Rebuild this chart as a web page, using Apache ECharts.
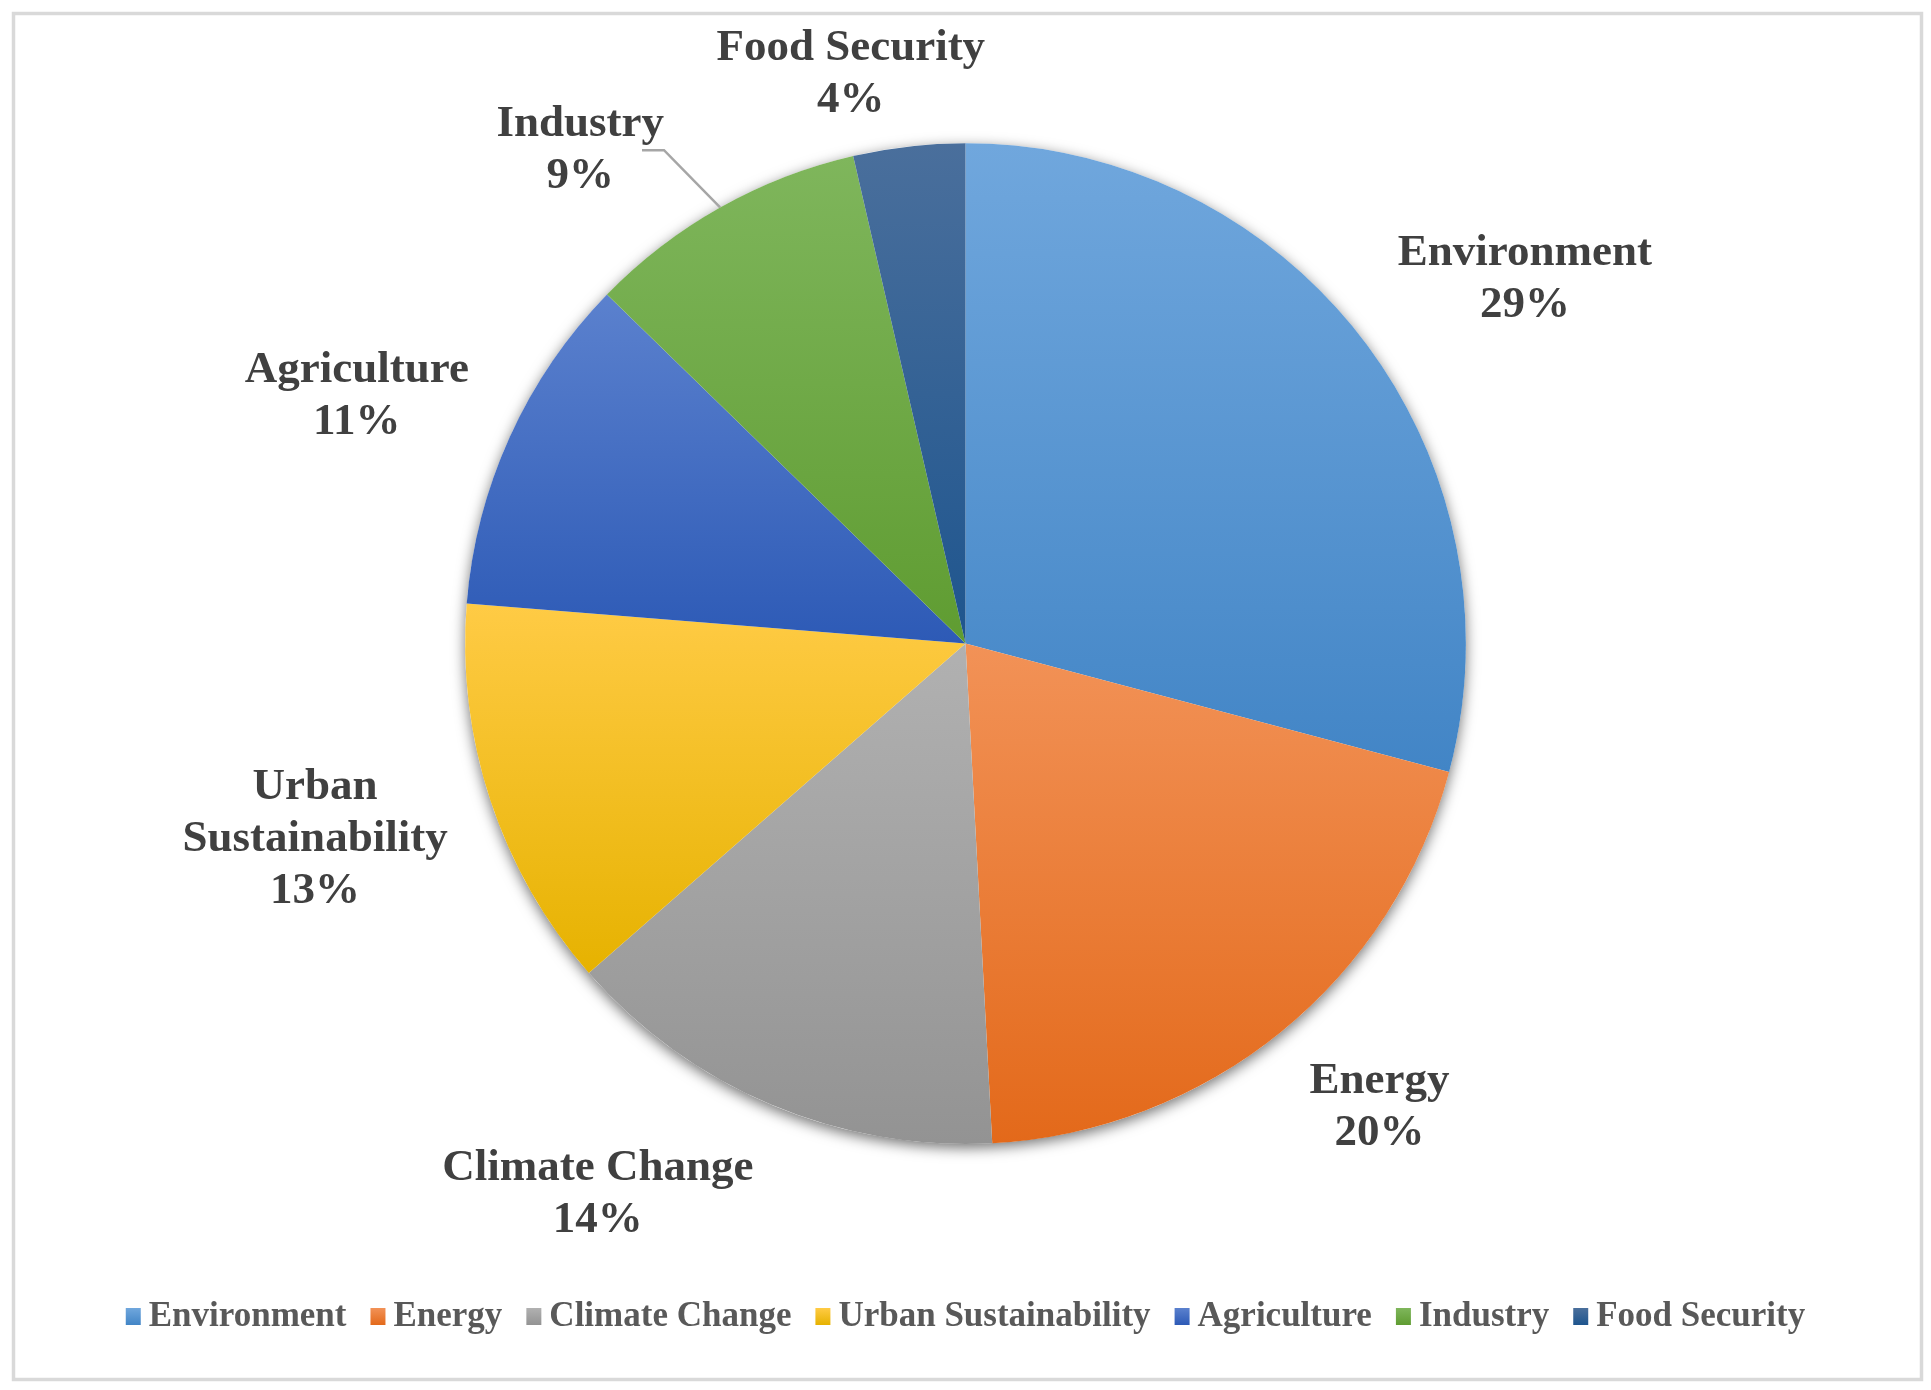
<!DOCTYPE html>
<html>
<head>
<meta charset="utf-8">
<script src="https://cdn.jsdelivr.net/npm/echarts@6/dist/echarts.min.js"></script>
<style>
  html, body { margin: 0; padding: 0; background: #fff; }
  #chart { width: 1931px; height: 1390px; }
</style>
</head>
<body>
<div id="chart"></div>
<script>
// 数据
var categories = ['Environment', 'Energy', 'Climate Change', 'Urban Sustainability', 'Agriculture', 'Industry', 'Food Security'];
var labelNames = ['Environment', 'Energy', 'Climate Change', 'Urban\nSustainability', 'Agriculture', 'Industry', 'Food Security'];
var shares = [29.1, 20.0, 14.4, 12.7, 11.0, 9.1, 3.6];

// 颜色 (上浅下深)
var colorsTop = ['#70A7DD', '#F29257', '#B1B1B1', '#FFCB45', '#5B81CE', '#7FB65C', '#4A6F9C'];
var colorsBottom = ['#4285C6', '#E3691A', '#939393', '#E6B200', '#2D5AB6', '#5F9C31', '#1E558E'];

var myChart = echarts.init(document.getElementById('chart'));

var total = shares.reduce(function (a, b) { return a + b; }, 0);

var pieData = categories.map(function (name, i) {
    var item = {
        name: name,
        value: shares[i],
        itemStyle: {
            color: new echarts.graphic.LinearGradient(0, 0, 0, 1, [
                { offset: 0, color: colorsTop[i] },
                { offset: 1, color: colorsBottom[i] }
            ])
        }
    };
    if (name === 'Industry') {
        item.labelLine = { show: true };
    }
    return item;
});

var CENTER_Y = 0.463;
var RADIUS = 0.72;
var GAP = 45;
var LEADER = 34;

function clamp1(v) { return Math.max(-1, Math.min(1, v)); }

var option = {
    backgroundColor: '#fff',
    animation: false,
    // 外框
    graphic: [{
        type: 'rect',
        left: 11,
        top: 11,
        shape: { width: 1908, height: 1366 },
        style: { fill: 'none', stroke: '#D9D9D9', lineWidth: 3.5 },
        silent: true
    }],
    legend: {
        data: categories,
        top: 1294,
        left: 'center',
        icon: 'rect',
        itemWidth: 15,
        itemHeight: 17,
        itemGap: 24,
        textStyle: {
            fontFamily: 'Liberation Serif',
            fontWeight: 'bold',
            fontSize: 35,
            color: '#595959',
            padding: [0, 0, 0, 3]
        }
    },
    series: [
        // 阴影底盘
        {
            type: 'pie',
            silent: true,
            center: ['50%', (CENTER_Y * 100) + '%'],
            radius: (RADIUS * 100) + '%',
            z: 1,
            label: { show: false },
            labelLine: { show: false },
            itemStyle: {
                color: '#fff',
                shadowBlur: 14,
                shadowOffsetY: 4,
                shadowColor: 'rgba(0,0,0,0.55)'
            },
            data: [{ name: '', value: 1 }]
        },
        {
            name: 'Share',
            type: 'pie',
            z: 2,
            center: ['50%', (CENTER_Y * 100) + '%'],
            radius: (RADIUS * 100) + '%',
            startAngle: 90,
            clockwise: true,
            avoidLabelOverlap: false,
            data: pieData,
            label: {
                show: true,
                position: 'outside',
                formatter: function (p) {
                    return labelNames[p.dataIndex] + '\n' + Math.round(p.value / total * 100) + '%';
                },
                fontFamily: 'Liberation Serif',
                fontWeight: 'bold',
                fontSize: 45,
                lineHeight: 52,
                color: '#404040'
            },
            labelLine: {
                show: false,
                lineStyle: { color: '#A6A6A6', width: 2.5 }
            },
            labelLayout: function (params) {
                if (params.seriesIndex !== 1) return {};
                var i = params.dataIndex;
                var W = myChart.getWidth(), H = myChart.getHeight();
                var cx = W * 0.5, cy = H * CENTER_Y;
                var R = Math.min(W, H) / 2 * RADIUS;
                var before = 0;
                for (var k = 0; k < i; k++) before += shares[k];
                var mid = (before + shares[i] / 2) / total * Math.PI * 2;
                var ux = Math.sin(mid), uy = -Math.cos(mid);
                var w = params.labelRect.width, h = params.labelRect.height;
                var x = cx + (R + GAP) * ux + clamp1(3.5 * ux) * w / 2;
                var y = cy + (R + GAP) * uy + uy * h / 2;
                var hasLine = pieData[i].labelLine && pieData[i].labelLine.show;
                if (hasLine) {
                    x += (ux < 0 ? -1 : 1) * LEADER;
                    y += LEADER * 0.8;
                }
                y = Math.max(y, 22 + h / 2);
                var ex = cx + R * ux, ey = cy + R * uy;
                var right = x + w / 2;
                return {
                    x: x,
                    y: y,
                    align: 'center',
                    verticalAlign: 'middle',
                    labelLinePoints: [[ex, ey], [right, y], [right - 22, y]]
                };
            }
        }
    ]
};

myChart.setOption(option);
</script>
</body>
</html>
